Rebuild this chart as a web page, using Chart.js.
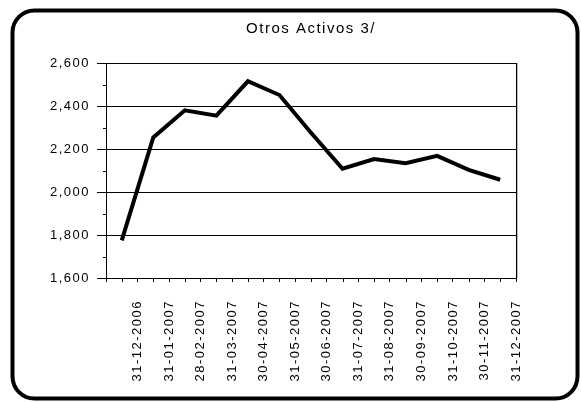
<!DOCTYPE html>
<html>
<head>
<meta charset="utf-8">
<script src="https://cdn.jsdelivr.net/npm/chart.js@4/dist/chart.umd.min.js"></script>
<style>
  html, body { margin: 0; padding: 0; background: #fff; }
  canvas { display: block; }
</style>
</head>
<body>
<canvas id="chart" width="581" height="402"></canvas>
<script>
const labels = ['31-12-2006', '31-01-2007', '28-02-2007', '31-03-2007', '30-04-2007', '31-05-2007',
    '30-06-2007', '31-07-2007', '31-08-2007', '30-09-2007', '31-10-2007', '30-11-2007', '31-12-2007'];
const values = [1775, 2254, 2380, 2355, 2515, 2451, 2276, 2108, 2153, 2134, 2168, 2103, 2057];
const yMin = 1600;
const yMax = 2600;
const yStep = 100;
const labelStep = 200;

const font = { family: "'Liberation Sans', Arial, sans-serif", size: 13 };

const px = v => Math.round(v) + 0.5;

// Excel-style frame, letter spacing, right border and the small extra tick marks
const framePlugin = {
    id: 'frame',
    afterInit(chart) {
        chart.ctx.letterSpacing = '1.5px';
    },
    beforeDraw(chart) {
        const ctx = chart.ctx;
        ctx.letterSpacing = '1.5px';
        ctx.save();
        ctx.lineWidth = 4;
        ctx.strokeStyle = '#000';
        ctx.beginPath();
        ctx.roundRect(12.5, 10.5, 565, 388, 22);
        ctx.stroke();
        ctx.restore();
    },
    afterDraw(chart) {
        const a = chart.chartArea;
        const xs = chart.scales.x;
        const ys = chart.scales.y;
        const ctx = chart.ctx;
        ctx.save();
        ctx.lineWidth = 1;
        ctx.strokeStyle = '#bbb';
        ctx.beginPath();
        ctx.moveTo(px(a.right) + 1, a.top);
        ctx.lineTo(px(a.right) + 1, a.bottom);
        ctx.stroke();
        ctx.strokeStyle = '#000';
        ctx.beginPath();
        ctx.moveTo(px(a.right), a.top);
        ctx.lineTo(px(a.right), a.bottom);
        // ticks at category centres
        labels.forEach((l, i) => {
            const x = px(xs.getPixelForValue(i));
            ctx.moveTo(x, a.bottom);
            ctx.lineTo(x, a.bottom + 4);
        });
        // y minor ticks and inner part of the major ones
        for (let v = yMin; v <= yMax; v += yStep) {
            const y = px(ys.getPixelForValue(v));
            if (v % labelStep === 0) {
                ctx.moveTo(a.left, y);
                ctx.lineTo(a.left + 4, y);
            } else {
                ctx.moveTo(a.left - 3, y);
                ctx.lineTo(a.left + 1, y);
            }
        }
        ctx.stroke();
        ctx.restore();
    }
};

new Chart(document.getElementById('chart'), {
    type: 'line',
    data: {
        labels: labels,
        datasets: [{
            data: values,
            borderColor: '#000',
            borderWidth: 4,
            pointRadius: 0,
            tension: 0,
            fill: false
        }]
    },
    options: {
        responsive: false,
        animation: false,
        layout: { padding: { top: 0, right: 65, bottom: 0, left: 0 } },
        plugins: {
            legend: { display: false },
            tooltip: { enabled: false },
            title: {
                display: true,
                text: 'Otros Activos 3/',
                fullSize: false,
                color: '#000',
                font: { family: font.family, size: 15, weight: 'normal' },
                padding: { top: 20, bottom: 25 }
            }
        },
        scales: {
            x: {
                offset: true,
                grid: { offset: true, drawOnChartArea: false, tickLength: 4, color: '#000' },
                border: { color: '#000' },
                ticks: {
                    color: '#000',
                    font: font,
                    minRotation: 90,
                    maxRotation: 90,
                    autoSkip: false,
                    labelOffset: 15.8,
                    padding: 18
                },
                afterFit(scale) { scale.height = 124; }
            },
            y: {
                min: yMin,
                max: yMax,
                grid: {
                    color: ctx => (ctx.tick && ctx.tick.value % labelStep === 0) ? '#000' : 'rgba(0,0,0,0)',
                    tickColor: ctx => (ctx.tick && ctx.tick.value % labelStep === 0) ? '#000' : 'rgba(0,0,0,0)',
                    tickLength: 9
                },
                border: { color: '#000' },
                ticks: {
                    stepSize: yStep,
                    autoSkip: false,
                    color: '#000',
                    font: font,
                    padding: 7,
                    callback: v => v % labelStep === 0 ? v.toLocaleString('en-US') : ''
                },
                afterFit(scale) { scale.width = 106; }
            }
        }
    },
    plugins: [framePlugin]
});
</script>
</body>
</html>
